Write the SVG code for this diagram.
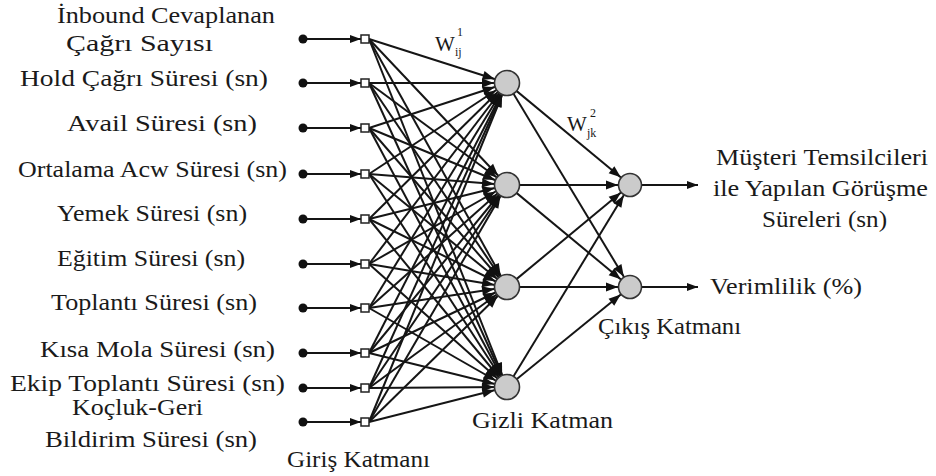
<svg xmlns="http://www.w3.org/2000/svg" width="936" height="476" viewBox="0 0 936 476" font-family="Liberation Serif, Times New Roman, DejaVu Serif, serif">
<style>
text{font-size:24px;fill:#1a1a1a}
.c{stroke:#151515;stroke-width:2;fill:none}
.dot{fill:#111}
.sq{fill:#fff;stroke:#222;stroke-width:1.5}
.n{fill:#cbcbcb;stroke:#333;stroke-width:1.6}
text.w{font-size:21px}
text.s{font-size:12px}
</style>
<defs>
<marker id="a" markerUnits="userSpaceOnUse" markerWidth="12" markerHeight="8" refX="11" refY="4" orient="auto" overflow="visible"><path d="M0,0 L11,4 L0,8 z" fill="#111"/></marker>
<marker id="ah" markerUnits="userSpaceOnUse" markerWidth="13" markerHeight="9" refX="25" refY="4.5" orient="auto" overflow="visible"><path d="M0,0 L12,4.5 L0,9 z" fill="#111"/></marker>
<marker id="ao" markerUnits="userSpaceOnUse" markerWidth="13" markerHeight="9" refX="24" refY="4.5" orient="auto" overflow="visible"><path d="M0,0 L12,4.5 L0,9 z" fill="#111"/></marker>
</defs>
<rect width="936" height="476" fill="#fff"/>
<g id="connectors" class="c">
<g marker-end="url(#a)">
<line x1="303" y1="39" x2="361" y2="39"/><line x1="303" y1="83" x2="361" y2="83"/><line x1="303" y1="128" x2="361" y2="128"/><line x1="303" y1="174" x2="361" y2="174"/><line x1="303" y1="219" x2="361" y2="219"/><line x1="303" y1="264" x2="361" y2="264"/><line x1="303" y1="308" x2="361" y2="308"/><line x1="303" y1="353" x2="361" y2="353"/><line x1="303" y1="388" x2="361" y2="388"/><line x1="303" y1="422" x2="361" y2="422"/>
</g>
<g marker-end="url(#ah)">
<line x1="369" y1="39" x2="507" y2="83"/><line x1="369" y1="39" x2="507" y2="185"/><line x1="369" y1="39" x2="507" y2="287"/><line x1="369" y1="39" x2="507" y2="387"/>
<line x1="369" y1="83" x2="507" y2="83"/><line x1="369" y1="83" x2="507" y2="185"/><line x1="369" y1="83" x2="507" y2="287"/><line x1="369" y1="83" x2="507" y2="387"/>
<line x1="369" y1="128" x2="507" y2="83"/><line x1="369" y1="128" x2="507" y2="185"/><line x1="369" y1="128" x2="507" y2="287"/><line x1="369" y1="128" x2="507" y2="387"/>
<line x1="369" y1="174" x2="507" y2="83"/><line x1="369" y1="174" x2="507" y2="185"/><line x1="369" y1="174" x2="507" y2="287"/><line x1="369" y1="174" x2="507" y2="387"/>
<line x1="369" y1="219" x2="507" y2="83"/><line x1="369" y1="219" x2="507" y2="185"/><line x1="369" y1="219" x2="507" y2="287"/><line x1="369" y1="219" x2="507" y2="387"/>
<line x1="369" y1="264" x2="507" y2="83"/><line x1="369" y1="264" x2="507" y2="185"/><line x1="369" y1="264" x2="507" y2="287"/><line x1="369" y1="264" x2="507" y2="387"/>
<line x1="369" y1="308" x2="507" y2="83"/><line x1="369" y1="308" x2="507" y2="185"/><line x1="369" y1="308" x2="507" y2="287"/><line x1="369" y1="308" x2="507" y2="387"/>
<line x1="369" y1="353" x2="507" y2="83"/><line x1="369" y1="353" x2="507" y2="185"/><line x1="369" y1="353" x2="507" y2="287"/><line x1="369" y1="353" x2="507" y2="387"/>
<line x1="369" y1="388" x2="507" y2="83"/><line x1="369" y1="388" x2="507" y2="185"/><line x1="369" y1="388" x2="507" y2="287"/><line x1="369" y1="388" x2="507" y2="387"/>
<line x1="369" y1="422" x2="507" y2="83"/><line x1="369" y1="422" x2="507" y2="185"/><line x1="369" y1="422" x2="507" y2="287"/><line x1="369" y1="422" x2="507" y2="387"/>
</g>
<g marker-end="url(#ao)">
<line x1="507" y1="83" x2="630" y2="185"/><line x1="507" y1="83" x2="630" y2="287"/>
<line x1="507" y1="185" x2="630" y2="185"/><line x1="507" y1="185" x2="630" y2="287"/>
<line x1="507" y1="287" x2="630" y2="185"/><line x1="507" y1="287" x2="630" y2="287"/>
<line x1="507" y1="387" x2="630" y2="185"/><line x1="507" y1="387" x2="630" y2="287"/>
</g>
<g marker-end="url(#a)">
<line x1="641" y1="185" x2="698" y2="185"/><line x1="641" y1="287" x2="698" y2="287"/>
</g>
</g>
<g id="in1"><circle class="dot" cx="303" cy="39" r="4.5"/><rect class="sq" x="361" y="35" width="8" height="8"/><text x="57" y="23" textLength="218" lengthAdjust="spacingAndGlyphs">İnbound Cevaplanan</text><text x="66" y="51" textLength="147" lengthAdjust="spacingAndGlyphs">Çağrı Sayısı</text></g>
<g id="in2"><circle class="dot" cx="303" cy="83" r="4.5"/><rect class="sq" x="361" y="79" width="8" height="8"/><text x="20" y="86" textLength="248" lengthAdjust="spacingAndGlyphs">Hold Çağrı Süresi (sn)</text></g>
<g id="in3"><circle class="dot" cx="303" cy="128" r="4.5"/><rect class="sq" x="361" y="124" width="8" height="8"/><text x="67" y="131" textLength="190" lengthAdjust="spacingAndGlyphs">Avail Süresi (sn)</text></g>
<g id="in4"><circle class="dot" cx="303" cy="174" r="4.5"/><rect class="sq" x="361" y="170" width="8" height="8"/><text x="18" y="177" textLength="269" lengthAdjust="spacingAndGlyphs">Ortalama Acw Süresi (sn)</text></g>
<g id="in5"><circle class="dot" cx="303" cy="219" r="4.5"/><rect class="sq" x="361" y="215" width="8" height="8"/><text x="57" y="221" textLength="190" lengthAdjust="spacingAndGlyphs">Yemek Süresi (sn)</text></g>
<g id="in6"><circle class="dot" cx="303" cy="264" r="4.5"/><rect class="sq" x="361" y="260" width="8" height="8"/><text x="57" y="266" textLength="188" lengthAdjust="spacingAndGlyphs">Eğitim Süresi (sn)</text></g>
<g id="in7"><circle class="dot" cx="303" cy="308" r="4.5"/><rect class="sq" x="361" y="304" width="8" height="8"/><text x="51" y="310" textLength="206" lengthAdjust="spacingAndGlyphs">Toplantı  Süresi (sn)</text></g>
<g id="in8"><circle class="dot" cx="303" cy="353" r="4.5"/><rect class="sq" x="361" y="349" width="8" height="8"/><text x="40" y="357" textLength="235" lengthAdjust="spacingAndGlyphs">Kısa Mola Süresi (sn)</text></g>
<g id="in9"><circle class="dot" cx="303" cy="388" r="4.5"/><rect class="sq" x="361" y="384" width="8" height="8"/><text x="10" y="391" textLength="275" lengthAdjust="spacingAndGlyphs">Ekip Toplantı  Süresi (sn)</text></g>
<g id="in10"><circle class="dot" cx="303" cy="422" r="4.5"/><rect class="sq" x="361" y="418" width="8" height="8"/><text x="72" y="415" textLength="131" lengthAdjust="spacingAndGlyphs">Koçluk-Geri</text><text x="45" y="447" textLength="212" lengthAdjust="spacingAndGlyphs">Bildirim  Süresi (sn)</text></g>
<g id="h1"><circle class="n" cx="507" cy="83" r="12.5"/></g>
<g id="h2"><circle class="n" cx="507" cy="185" r="12.5"/></g>
<g id="h3"><circle class="n" cx="507" cy="287" r="12.5"/></g>
<g id="h4"><circle class="n" cx="507" cy="387" r="12.5"/></g>
<g id="o1"><circle class="n" cx="630" cy="185" r="11.5"/><text x="716" y="165" textLength="212" lengthAdjust="spacingAndGlyphs">Müşteri Temsilcileri</text><text x="713" y="196" textLength="215" lengthAdjust="spacingAndGlyphs">ile Yapılan Görüşme</text><text x="762" y="227" textLength="125" lengthAdjust="spacingAndGlyphs">Süreleri (sn)</text></g>
<g id="o2"><circle class="n" cx="630" cy="287" r="11.5"/><text x="710" y="294" textLength="152" lengthAdjust="spacingAndGlyphs">Verimlilik (%)</text></g>
<g id="labels">
<text x="287" y="467" textLength="143" lengthAdjust="spacingAndGlyphs">Giriş Katmanı</text>
<text x="472" y="428" textLength="141" lengthAdjust="spacingAndGlyphs">Gizli Katman</text>
<text x="598" y="334" textLength="143" lengthAdjust="spacingAndGlyphs">Çıkış Katmanı</text>
<text class="w" x="435" y="51">W</text><text class="s" x="457" y="36">1</text><text class="s" x="455" y="56">ij</text>
<text class="w" x="567" y="131">W</text><text class="s" x="590" y="117">2</text><text class="s" x="587" y="137">jk</text>
</g>
</svg>
